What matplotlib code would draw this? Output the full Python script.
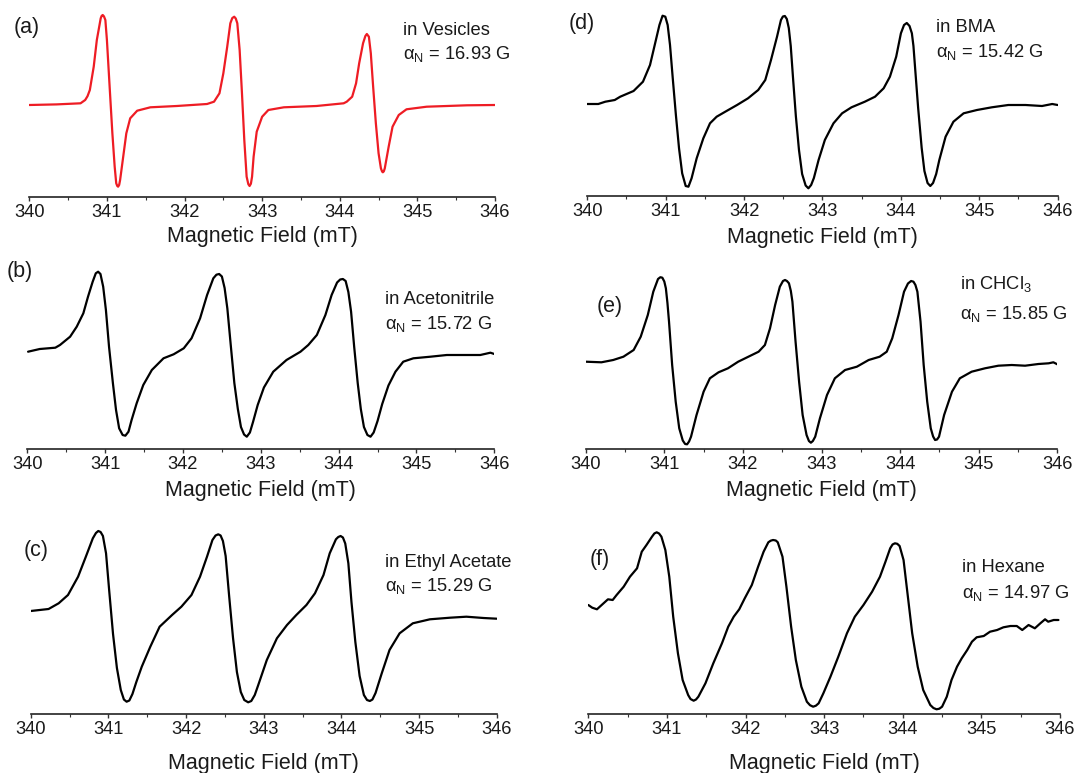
import matplotlib
matplotlib.use("Agg")
import matplotlib.pyplot as plt
from matplotlib.ticker import MultipleLocator

plt.rcParams['font.family'] = ['Liberation Sans', 'DejaVu Sans']
plt.rcParams['mathtext.fontset'] = 'custom'
plt.rcParams['mathtext.rm'] = 'Liberation Sans'
plt.rcParams['mathtext.it'] = 'Liberation Sans:italic'

# ---------------- EPR spectra: field (mT) and derivative signal (a.u.) ----------------
a_field = [340.00, 340.35, 340.66, 340.72, 340.75, 340.78, 340.83, 340.87, 340.92, 340.932,
           340.946, 340.962, 340.98, 341.00, 341.02, 341.045, 341.07, 341.10, 341.12, 341.133,
           341.144, 341.158, 341.17, 341.21, 341.25, 341.30, 341.39, 341.56, 341.90, 342.29,
           342.38, 342.45, 342.50, 342.55, 342.59, 342.615, 342.64, 342.66, 342.68, 342.71,
           342.74, 342.77, 342.80, 342.822, 342.838, 342.855, 342.87, 342.89, 342.93, 343.00,
           343.08, 343.28, 343.70, 344.05, 344.09, 344.16, 344.21, 344.25, 344.30, 344.33,
           344.349, 344.375, 344.40, 344.43, 344.465, 344.50, 344.53, 344.545, 344.555, 344.568,
           344.58, 344.63, 344.68, 344.76, 344.86, 345.12, 345.64, 346.00]
a_signal = [91.7, 92.3, 93.4, 96.7, 100.5, 106.7, 130.0, 156.7, 178.4, 180.8,
            181.7, 180.3, 176.7, 156.7, 130.0, 96.7, 63.7, 30.0, 13.4, 10.8,
            10.0, 11.8, 16.7, 40.0, 63.4, 78.4, 86.0, 89.4, 90.7, 92.7,
            95.0, 103.4, 123.4, 150.0, 173.4, 178.6, 180.0, 178.2, 173.4, 146.7,
            103.4, 56.7, 20.0, 12.5, 10.7, 13.0, 20.0, 40.0, 65.0, 80.0,
            86.7, 89.4, 90.7, 93.4, 95.0, 100.0, 113.4, 133.4, 153.4, 160.7,
            162.7, 160.0, 143.4, 110.0, 73.4, 43.4, 28.4, 25.2, 24.4, 25.4,
            28.4, 50.0, 70.0, 81.7, 87.4, 90.0, 91.4, 91.7]

b_field = [340.01, 340.16, 340.36, 340.42, 340.55, 340.635, 340.72, 340.78, 340.84, 340.88,
           340.91, 340.94, 340.975, 341.01, 341.05, 341.10, 341.14, 341.18, 341.225, 341.26,
           341.30, 341.34, 341.405, 341.49, 341.60, 341.75, 341.88, 342.01, 342.11, 342.22,
           342.31, 342.39, 342.43, 342.465, 342.50, 342.535, 342.57, 342.615, 342.66, 342.705,
           342.745, 342.785, 342.82, 342.86, 342.90, 342.96, 343.04, 343.16, 343.33, 343.51,
           343.61, 343.72, 343.83, 343.91, 343.98, 344.02, 344.055, 344.09, 344.125, 344.16,
           344.20, 344.245, 344.285, 344.325, 344.37, 344.41, 344.45, 344.50, 344.56, 344.64,
           344.73, 344.83, 344.96, 345.18, 345.39, 345.65, 345.82, 345.95, 346.00]
b_signal = [97.3, 100.0, 101.3, 104.0, 112.3, 122.3, 135.7, 152.3, 167.3, 175.7,
            177.3, 175.0, 162.3, 139.0, 102.3, 65.7, 39.0, 20.7, 14.0, 13.3,
            17.3, 29.0, 45.7, 64.0, 79.0, 90.7, 94.7, 100.7, 110.7, 130.7,
            154.0, 170.7, 174.3, 175.0, 172.5, 161.0, 140.7, 103.0, 66.0, 40.0,
            22.0, 14.5, 12.3, 16.5, 27.0, 44.0, 61.5, 77.3, 89.0, 97.3,
            104.0, 114.0, 134.0, 154.0, 166.5, 169.5, 170.0, 168.0, 157.0, 137.3,
            102.0, 66.0, 40.0, 22.0, 14.0, 12.3, 16.5, 28.0, 45.0, 63.5,
            77.3, 87.3, 90.7, 92.3, 94.0, 94.0, 94.0, 96.3, 95.0]

c_field = [340.00, 340.23, 340.36, 340.48, 340.61, 340.71, 340.80, 340.84, 340.87, 340.90,
           340.93, 340.97, 341.01, 341.06, 341.11, 341.16, 341.20, 341.235, 341.27, 341.31,
           341.36, 341.43, 341.54, 341.66, 341.82, 341.94, 342.07, 342.18, 342.27, 342.34,
           342.38, 342.415, 342.445, 342.475, 342.51, 342.555, 342.605, 342.655, 342.705, 342.75,
           342.80, 342.84, 342.885, 342.93, 343.04, 343.17, 343.30, 343.42, 343.55, 343.66,
           343.77, 343.85, 343.93, 343.96, 343.99, 344.02, 344.05, 344.09, 344.13, 344.18,
           344.235, 344.29, 344.33, 344.367, 344.40, 344.44, 344.52, 344.62, 344.75, 344.92,
           345.14, 345.40, 345.61, 345.83, 346.00]
c_signal = [103.0, 105.0, 110.7, 119.0, 137.3, 157.3, 175.7, 181.0, 183.0, 182.0,
            178.0, 160.7, 124.0, 80.0, 46.0, 24.0, 14.5, 12.3, 13.5, 20.0,
            32.0, 47.3, 67.3, 87.3, 99.0, 107.3, 119.0, 137.3, 157.3, 174.0,
            178.5, 179.7, 178.5, 173.0, 158.0, 118.0, 76.0, 42.0, 22.0, 14.0,
            11.7, 13.0, 19.0, 29.0, 54.0, 75.7, 89.0, 99.0, 109.0, 120.7,
            139.0, 160.7, 174.7, 177.0, 178.0, 176.5, 170.5, 150.7, 112.0, 72.0,
            38.0, 19.0, 14.0, 13.0, 14.5, 21.0, 40.7, 64.0, 80.7, 90.7,
            94.7, 96.3, 97.3, 96.0, 95.3]

d_field = [340.00, 340.14, 340.23, 340.35, 340.42, 340.59, 340.71, 340.80, 340.86, 340.92,
           340.96, 340.995, 341.025, 341.055, 341.09, 341.13, 341.17, 341.21, 341.255, 341.29,
           341.33, 341.395, 341.48, 341.565, 341.65, 341.76, 341.91, 342.05, 342.18, 342.27,
           342.343, 342.42, 342.47, 342.495, 342.52, 342.545, 342.57, 342.595, 342.625, 342.66,
           342.70, 342.74, 342.785, 342.82, 342.855, 342.89, 342.95, 343.03, 343.14, 343.25,
           343.37, 343.54, 343.67, 343.78, 343.86, 343.94, 344.00, 344.04, 344.075, 344.11,
           344.14, 344.16, 344.18, 344.22, 344.265, 344.30, 344.34, 344.375, 344.41, 344.45,
           344.49, 344.57, 344.67, 344.80, 344.97, 345.16, 345.37, 345.59, 345.80, 345.93,
           346.00]
d_signal = [92.0, 92.0, 94.3, 96.0, 99.3, 105.0, 114.3, 131.0, 151.0, 171.0,
            180.3, 179.3, 171.0, 151.0, 117.7, 81.0, 47.7, 22.7, 10.0, 9.3,
            17.7, 37.7, 57.7, 72.7, 79.3, 84.3, 91.0, 97.7, 106.0, 116.0,
            136.0, 159.3, 176.0, 179.5, 180.0, 177.0, 168.0, 150.0, 117.0, 80.0,
            46.0, 22.0, 10.5, 7.7, 11.0, 18.0, 36.0, 56.0, 72.7, 82.7,
            88.7, 94.3, 99.3, 107.7, 119.3, 139.3, 162.7, 171.0, 173.0, 170.0,
            162.7, 150.0, 129.3, 88.0, 48.0, 25.0, 13.0, 10.0, 13.0, 22.0,
            36.0, 59.3, 74.3, 82.7, 86.0, 88.7, 91.0, 91.0, 90.0, 92.0,
            91.0]

e_field = [340.00, 340.20, 340.35, 340.48, 340.61, 340.70, 340.79, 340.86, 340.92, 340.95,
           340.975, 341.00, 341.02, 341.04, 341.06, 341.10, 341.145, 341.19, 341.235, 341.265,
           341.29, 341.315, 341.34, 341.41, 341.50, 341.58, 341.69, 341.81, 341.94, 342.07,
           342.20, 342.28, 342.345, 342.41, 342.47, 342.51, 342.536, 342.56, 342.586, 342.61,
           342.63, 342.67, 342.715, 342.76, 342.81, 342.84, 342.865, 342.89, 342.92, 342.98,
           343.07, 343.17, 343.30, 343.45, 343.60, 343.74, 343.83, 343.90, 343.98, 344.05,
           344.10, 344.14, 344.17, 344.195, 344.22, 344.26, 344.30, 344.345, 344.39, 344.42,
           344.445, 344.47, 344.495, 344.56, 344.66, 344.76, 344.91, 345.08, 345.25, 345.42,
           345.59, 345.76, 345.89, 345.95, 346.00]
e_signal = [87.3, 86.7, 89.0, 92.3, 99.0, 112.3, 134.0, 157.3, 170.0, 171.8,
            171.3, 167.5, 160.7, 146.0, 127.3, 84.0, 47.3, 20.7, 8.5, 5.0,
            4.7, 7.5, 12.3, 34.0, 57.3, 70.7, 76.7, 80.7, 87.3, 92.3,
            97.3, 104.0, 120.7, 144.0, 162.3, 168.0, 169.0, 168.0, 165.7, 158.0,
            147.3, 107.3, 67.3, 34.0, 14.0, 8.0, 6.3, 8.0, 12.3, 30.7,
            54.0, 70.7, 79.0, 82.3, 89.0, 92.3, 97.3, 110.7, 134.0, 157.3,
            165.5, 168.0, 167.3, 164.0, 157.3, 127.3, 84.0, 47.3, 20.7, 12.5,
            9.0, 9.5, 12.3, 34.0, 57.3, 70.7, 77.3, 80.7, 83.3, 84.0,
            83.3, 85.0, 85.7, 86.7, 84.7]

f_field = [340.00, 340.05, 340.11, 340.17, 340.25, 340.31, 340.36, 340.45, 340.53, 340.62,
           340.68, 340.74, 340.81, 340.84, 340.87, 340.90, 340.93, 340.98, 341.03, 341.08,
           341.14, 341.20, 341.27, 341.30, 341.34, 341.37, 341.40, 341.49, 341.59, 341.70,
           341.78, 341.85, 341.92, 341.99, 342.08, 342.16, 342.23, 342.29, 342.32, 342.35,
           342.385, 342.41, 342.47, 342.52, 342.58, 342.64, 342.71, 342.78, 342.82, 342.86,
           342.895, 342.93, 342.99, 343.08, 343.18, 343.29, 343.39, 343.50, 343.61, 343.71,
           343.78, 343.84, 343.87, 343.90, 343.93, 343.96, 344.01, 344.06, 344.12, 344.19,
           344.26, 344.35, 344.39, 344.43, 344.465, 344.50, 344.56, 344.62, 344.69, 344.75,
           344.82, 344.88, 344.94, 345.03, 345.11, 345.20, 345.28, 345.37, 345.45, 345.52,
           345.60, 345.68, 345.75, 345.81, 345.85, 345.92, 345.98]
f_signal = [109.0, 106.3, 104.7, 109.0, 114.7, 114.0, 119.0, 127.3, 137.3, 145.7,
            162.3, 169.0, 177.3, 180.5, 181.7, 180.5, 177.3, 164.0, 137.3, 97.3,
            60.7, 34.0, 19.0, 15.0, 13.3, 14.5, 17.3, 30.7, 50.7, 70.7,
            87.3, 97.3, 104.7, 115.7, 129.0, 147.3, 162.3, 171.7, 173.3, 174.0,
            173.5, 171.7, 157.3, 127.3, 87.3, 54.0, 27.3, 12.3, 8.8, 7.3,
            8.3, 10.7, 20.7, 37.3, 57.3, 80.7, 97.3, 109.0, 122.3, 137.3,
            152.3, 165.7, 169.5, 170.7, 170.2, 168.0, 154.0, 120.7, 80.7, 47.3,
            24.0, 9.0, 6.0, 4.7, 5.3, 7.3, 17.3, 34.0, 47.3, 55.7,
            64.0, 72.3, 76.7, 78.0, 82.3, 84.0, 86.7, 88.0, 88.0, 84.0,
            89.0, 85.7, 90.7, 94.7, 92.3, 94.0, 94.0]

panel_tags = ['(a)', '(b)', '(c)', '(d)', '(e)', '(f)']
solvents = ['in Vesicles', 'in Acetonitrile', 'in Ethyl Acetate',
            'in BMA', 'in CHCl$_3$', 'in Hexane']
hyperfine_G = [16.93, 15.72, 15.29, 15.42, 15.85, 14.97]
fields = [a_field, b_field, c_field, d_field, e_field, f_field]
signals = [a_signal, b_signal, c_signal, d_signal, e_signal, f_signal]
line_colors = ['#ee1c24', 'black', 'black', 'black', 'black', 'black']

# ---------------- layout (pixels on a 1075 x 773 canvas) ----------------
W, H = 1075, 773
fig = plt.figure(figsize=(W / 100, H / 100), dpi=100)

AX_H = 192.0
# (left, right, axis-line y) for each panel
frames = [(29.3, 495.0, 196.7), (27.3, 494.3, 449.0), (30.7, 496.7, 714.0),
          (587.3, 1057.7, 196.0), (585.7, 1057.3, 449.0), (588.3, 1060.0, 714.0)]
xlabel_y = [237.0, 490.5, 763.0, 237.0, 490.5, 763.0]
tag_xy = [(13.3, 27.5), (6.7, 271.7), (23.3, 550.8),
          (568.3, 23.3), (596.7, 306.7), (590.0, 560.0)]
note_xy = [(403.3, 35.0, 59.3), (385.0, 304.3, 329.0), (385.0, 566.7, 590.7),
           (935.7, 32.3, 57.3), (960.0, 289.0, 319.0), (961.7, 571.7, 598.3)]

def fx(px):
    return px / W

def fy(py):
    return 1 - py / H

for i in range(6):
    x0, x1, base = frames[i]
    ax = fig.add_axes([fx(x0), fy(base), (x1 - x0) / W, AX_H / H])
    ax.plot(fields[i], signals[i], color=line_colors[i], lw=1.6,
            solid_joinstyle='round', solid_capstyle='round', antialiased=True)
    ax.set_xlim(340, 346)
    ax.set_ylim(0, AX_H)
    for side in ('top', 'left', 'right'):
        ax.spines[side].set_visible(False)
    ax.spines['bottom'].set_linewidth(1.2)
    ax.spines['bottom'].set_color('#222222')
    ax.patch.set_alpha(0)
    ax.set_yticks([])
    ax.xaxis.set_major_locator(MultipleLocator(1))
    ax.xaxis.set_minor_locator(MultipleLocator(0.5))
    ax.tick_params(axis='x', which='major', direction='out', length=3.2, width=1.0,
                   color='#333333', labelsize=13.2, pad=2.0, labelcolor='#1a1a1a')
    ax.tick_params(axis='x', which='minor', direction='out', length=2.0, width=0.8,
                   color='#333333')
    ax.set_xlabel('Magnetic Field (mT)', fontsize=15.5, color='#1a1a1a')
    ax.xaxis.label.set_va('center')
    ax.xaxis.set_label_coords(0.5, -(xlabel_y[i] - base) / AX_H)

    tx, ty = tag_xy[i]
    fig.text(fx(tx), fy(ty), panel_tags[i], fontsize=15.5, va='center', ha='left',
             color='#1a1a1a')
    nx, ny1, ny2 = note_xy[i]
    fig.text(fx(nx), fy(ny1), solvents[i], fontsize=13.2, va='baseline', ha='left',
             color='#1a1a1a')
    fig.text(fx(nx), fy(ny2), 'α$_{\\mathrm{N}}$ = %.2f G' % hyperfine_G[i],
             fontsize=13.2, va='baseline', ha='left', color='#1a1a1a')

fig.savefig('out.png', dpi=100)
